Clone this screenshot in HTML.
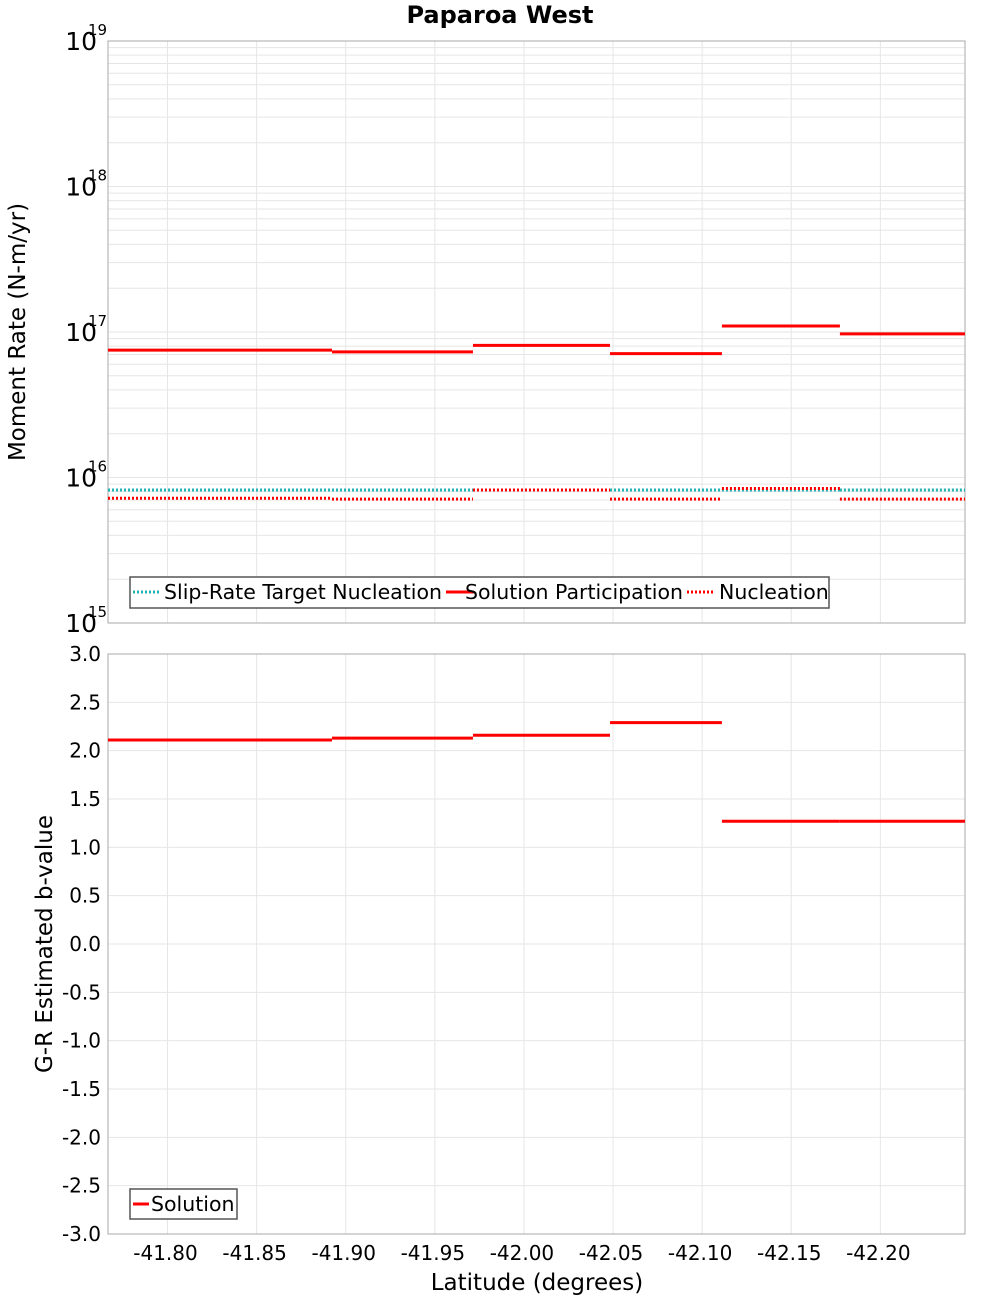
<!DOCTYPE html>
<html><head><meta charset="utf-8"><style>
body{margin:0;background:#fff;font-family:"Liberation Sans","DejaVu Sans",sans-serif}
svg text{font-family:"DejaVu Sans","Liberation Sans",sans-serif}
</style></head><body>
<svg id="c" width="1000" height="1300" xmlns="http://www.w3.org/2000/svg"></svg>
<script>
const edges=[-41.7666,-41.8272,-41.8923,-41.9714,-42.0483,-42.1111,-42.1773,-42.2475];
const participation=[7.5e16,7.5e16,7.3e16,8.1e16,7.1e16,1.1e17,9.7e16];
const target=[8.2e15,8.2e15,8.2e15,8.2e15,8.2e15,8.2e15,8.2e15];
const nucleation=[7.2e15,7.2e15,7.1e15,8.2e15,7.1e15,8.4e15,7.1e15];
const bvalue=[2.11,2.11,2.13,2.16,2.29,1.27,1.27];
const xTicks=[-41.80,-41.85,-41.90,-41.95,-42.00,-42.05,-42.10,-42.15,-42.20];
const xTickLabels=["-41.80","-41.85","-41.90","-41.95","-42.00","-42.05","-42.10","-42.15","-42.20"];
const logDecades=[15,16,17,18,19];
const bTicks=[3,2.5,2,1.5,1,0.5,0,-0.5,-1,-1.5,-2,-2.5,-3];

const NS="http://www.w3.org/2000/svg",svg=document.getElementById('c');
function mk(t,a,p){const e=document.createElementNS(NS,t);for(const k in a)e.setAttribute(k,a[k]);(p||svg).appendChild(e);return e;}
const L=108,R=965,T1=41,B1=623,T2=654,B2=1234;
const xs=v=>L+(v-edges[0])/(edges[7]-edges[0])*(R-L);
const ys1=v=>B1-(Math.log10(v)-15)/4*(B1-T1);
const ys2=v=>B2-(v+3)/6*(B2-T2);

let e=mk('rect',{x:L,y:T1,width:R-L,height:B1-T1,fill:'#fff'});

e=mk('rect',{x:L,y:T2,width:R-L,height:B2-T2,fill:'#fff'});


const g=mk('g',{stroke:'#e6e6e6','stroke-width':1});

for(let d=15;d<19;d++)for(let m=1;m<10;m++){const y=ys1(m*Math.pow(10,d));mk('line',{x1:L,x2:R,y1:y,y2:y},g);}
bTicks.forEach(v=>{const y=ys2(v);mk('line',{x1:L,x2:R,y1:y,y2:y},g);});
xTicks.forEach(v=>{const x=xs(v);mk('line',{x1:x,x2:x,y1:T1,y2:B1},g);mk('line',{x1:x,x2:x,y1:T2,y2:B2},g);});

e=mk('rect',{x:L,y:T1,width:R-L,height:B1-T1,fill:'none',stroke:'#aaa'});

e=mk('rect',{x:L,y:T2,width:R-L,height:B2-T2,fill:'none',stroke:'#aaa'});


e=mk('text',{x:500,y:23,'text-anchor':'middle','font-size':24,'font-weight':'bold'});e.textContent='Paparoa West';


logDecades.forEach(d=>{const y=ys1(Math.pow(10,d));
 const t=mk('text',{x:97,y:y+9,'text-anchor':'end','font-size':25});t.textContent='10';
 
 const s=mk('text',{x:88,y:y-6,'font-size':15});s.textContent=String(d);
 });
bTicks.forEach(v=>{const t=mk('text',{x:101,y:ys2(v)+7,'text-anchor':'end','font-size':20});t.textContent=v.toFixed(1);
 });
xTicks.forEach((v,i)=>{const t=mk('text',{x:xs(v)-2,y:1260,'text-anchor':'middle','font-size':20});t.textContent=xTickLabels[i];
 });

e=mk('text',{x:25,y:332,'text-anchor':'middle','font-size':23,transform:'rotate(-90 25 332)'});e.textContent='Moment Rate (N-m/yr)';

e=mk('text',{x:52,y:944,'text-anchor':'middle','font-size':23,transform:'rotate(-90 52 944)'});e.textContent='G-R Estimated b-value';

e=mk('text',{x:537,y:1290,'text-anchor':'middle','font-size':23});e.textContent='Latitude (degrees)';


function steps(arr,ys,col,dash,name){const gg=mk('g',{stroke:col,'stroke-width':3,'stroke-dasharray':dash||'none'});
 
 arr.forEach((v,i)=>{const l=mk('line',{x1:xs(edges[i]),x2:xs(edges[i+1]),y1:ys(v),y2:ys(v)},gg);
  });}
steps(target,ys1,'#1fb3b3','2 2','target-nucleation-series');
steps(nucleation,ys1,'#ff0000','2 2','nucleation-series');
steps(participation,ys1,'#ff0000',null,'participation-series');
steps(bvalue,ys2,'#ff0000',null,'b-value-series');

const lg=mk('g',{});
mk('rect',{x:130,y:577,width:699,height:31,fill:'#fff',stroke:'#555','stroke-width':1.5},lg);
[[133,'#1fb3b3','2 2','Slip-Rate Target Nucleation',164],[446,'#ff0000','none','Solution Participation',465],[687,'#ff0000','2 2','Nucleation',719]].forEach(a=>{
 mk('line',{x1:a[0],x2:a[0]+28,y1:592,y2:592,stroke:a[1],'stroke-width':3,'stroke-dasharray':a[2]},lg);
 const t=mk('text',{x:a[4],y:599,'font-size':20.5},lg);t.textContent=a[3];
 });
const lg2=mk('g',{});
mk('rect',{x:130,y:1189,width:107,height:30,fill:'#fff',stroke:'#555','stroke-width':1.5},lg2);
mk('line',{x1:133,x2:149,y1:1204,y2:1204,stroke:'#ff0000','stroke-width':3},lg2);
e=mk('text',{x:151,y:1211,'font-size':20.5},lg2);e.textContent='Solution';

</script>
</body></html>
